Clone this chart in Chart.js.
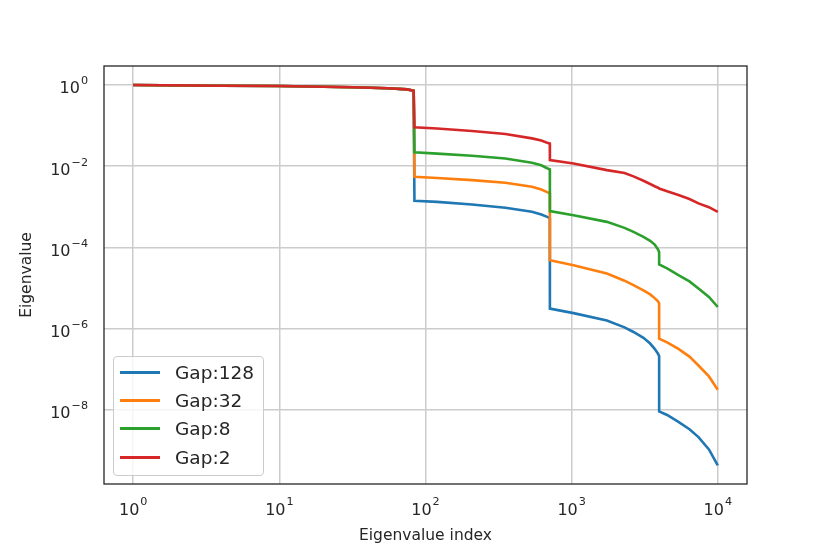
<!DOCTYPE html>
<html>
<head>
<meta charset="utf-8">
<script src="https://cdn.jsdelivr.net/npm/chart.js@4.4.1/dist/chart.umd.min.js"></script>
<style>
  body { margin: 0; background: #fff; }
  #wrap { position: relative; width: 830px; height: 554px; }
  #legend {
    position: absolute; left: 113px; top: 356px; width: 149px; height: 117px;
    border: 1px solid #cccccc; border-radius: 4px; background: rgba(255,255,255,0.8);
    font-family: "DejaVu Sans"; font-size: 18.5px; color: #262626; padding-top: 1px;
  }
  .row { display: flex; align-items: center; height: 28.3px; }
  .swatch { width: 40px; height: 3px; margin-left: 6px; margin-right: 15px; }
</style>
</head>
<body>
<div id="wrap">
  <canvas id="eigChart" width="830" height="554"></canvas>
  <div id="legend"></div>
</div>
<script>
// Eje x: indice del autovalor
var eigIndex = [1, 4, 10, 32, 55, 75, 83,
    84, 120, 208, 352, 535, 620, 680, 709,
    710, 1030, 1742, 2300, 2650, 3100, 3445, 3700, 3900, 3969,
    3970, 4500, 5380, 6400, 7380, 8700, 10000];

// Tramo inicial comun a todas las series
var headValues = [1.0, 0.96, 0.945, 0.877, 0.83, 0.78, 0.72];

// Resto de cada serie (desde x = 84)
var gap128Tail = [1.40e-3, 1.32e-3, 1.14e-3, 9.42e-4, 7.50e-4, 6.46e-4, 5.62e-4, 5.25e-4,
    3.09e-6, 2.40e-6, 1.58e-6, 1.07e-6, 8.22e-7, 5.89e-7, 4.27e-7, 3.16e-7, 2.40e-7, 2.09e-7,
    9.12e-9, 7.41e-9, 5.01e-9, 3.31e-9, 2.11e-9, 1.05e-9, 4.27e-10];
var gap32Tail = [5.50e-3, 5.13e-3, 4.54e-3, 3.89e-3, 3.11e-3, 2.66e-3, 2.29e-3, 2.14e-3,
    4.82e-5, 3.63e-5, 2.26e-5, 1.51e-5, 1.17e-5, 8.71e-6, 6.92e-6, 5.62e-6, 4.68e-6, 4.17e-6,
    5.62e-7, 4.57e-7, 3.16e-7, 2.04e-7, 1.23e-7, 6.61e-8, 3.09e-8];
var gap8Tail = [2.19e-2, 2.04e-2, 1.81e-2, 1.55e-2, 1.21e-2, 1.05e-2, 8.91e-3, 8.32e-3,
    7.80e-4, 6.21e-4, 4.25e-4, 3.02e-4, 2.41e-4, 1.82e-4, 1.45e-4, 1.17e-4, 8.91e-5, 7.59e-5,
    3.80e-5, 3.02e-5, 2.06e-5, 1.45e-5, 9.66e-6, 6.03e-6, 3.39e-6];
var gap2Tail = [9.04e-2, 8.51e-2, 7.33e-2, 6.18e-2, 4.84e-2, 4.27e-2, 3.80e-2, 3.63e-2,
    1.41e-2, 1.17e-2, 8.0e-3, 6.76e-3, 5.62e-3, 4.37e-3, 3.63e-3, 3.20e-3, 2.95e-3, 2.85e-3,
    2.82e-3, 2.40e-3, 1.94e-3, 1.55e-3, 1.21e-3, 9.77e-4, 7.50e-4];

var seriesLabels = ['Gap:128', 'Gap:32', 'Gap:8', 'Gap:2'];
var seriesColors = ['#1f77b4', '#ff7f0e', '#2ca02c', '#d62728'];
var seriesTails = [gap128Tail, gap32Tail, gap8Tail, gap2Tail];

// Ticks (base 10 con exponente)
var xTickVals = [1, 10, 100, 1000, 10000];
var xTickExps = ['0', '1', '2', '3', '4'];
var yTickVals = [1, 1e-2, 1e-4, 1e-6, 1e-8];
var yTickExps = ['0', '\u22122', '\u22124', '\u22126', '\u22128'];

var xMin = Math.pow(10, -0.2), xMax = Math.pow(10, 4.2);
var yMin = Math.pow(10, -9.83), yMax = Math.pow(10, 0.468);

function toPoints(tail) {
    var vals = headValues.concat(tail);
    return eigIndex.map(function (x, i) { return { x: x, y: vals[i] }; });
}

var datasets = seriesLabels.map(function (lab, i) {
    return {
        label: lab,
        data: toPoints(seriesTails[i]),
        borderColor: seriesColors[i],
        backgroundColor: seriesColors[i],
        borderWidth: 2.6,
        pointRadius: 0,
        tension: 0,
        fill: false,
        order: seriesLabels.length - i  // el ultimo (rojo) queda encima
    };
});

var baseFont = '16px "DejaVu Sans"';
var expFont = '11.2px "DejaVu Sans"';

// Marco y etiquetas 10^n con exponente elevado
var framePlugin = {
    id: 'frame',
    afterDraw: function (chart) {
        var a = chart.chartArea, c = chart.ctx;
        c.save();
        c.strokeStyle = '#262626';
        c.lineWidth = 1.3;
        c.strokeRect(a.left, a.top, a.right - a.left, a.bottom - a.top);

        c.fillStyle = '#262626';
        c.textBaseline = 'alphabetic';
        c.textAlign = 'left';
        var xs = chart.scales.x, ys = chart.scales.y;
        xTickVals.forEach(function (v, i) {
            c.font = baseFont; var wb = c.measureText('10').width;
            c.font = expFont; var we = c.measureText(xTickExps[i]).width;
            var x0 = xs.getPixelForValue(v) - (wb + we + 1) / 2;
            c.font = baseFont; c.fillText('10', x0, a.bottom + 31);
            c.font = expFont; c.fillText(xTickExps[i], x0 + wb + 1, a.bottom + 21);
        });
        yTickVals.forEach(function (v, i) {
            var py = ys.getPixelForValue(v);
            c.font = expFont; var we = c.measureText(yTickExps[i]).width;
            c.font = baseFont; var wb = c.measureText('10').width;
            var right = a.left - 16;
            c.fillText('10', right - we - 1 - wb, py + 8.5);
            c.font = expFont; c.fillText(yTickExps[i], right - we, py - 0.5);
        });
        c.restore();
    }
};

var font = { family: 'DejaVu Sans', size: 15.5 };

var ctx = document.getElementById('eigChart').getContext('2d');
var eigChart = new Chart(ctx, {
    type: 'line',
    data: { datasets: datasets },
    options: {
        responsive: false,
        animation: false,
        layout: { padding: { top: 66, right: 83, left: 0, bottom: 0 } },
        plugins: { legend: { display: false }, tooltip: { enabled: false } },
        scales: {
            x: {
                type: 'logarithmic',
                bounds: 'data',
                min: xMin,
                max: xMax,
                afterBuildTicks: function (s) {
                    s.ticks = xTickVals.map(function (v) { return { value: v }; });
                    s.min = xMin; s.max = xMax;
                },
                afterFit: function (s) { s.height = 70; },
                grid: { color: '#cccccc', lineWidth: 1.5, drawTicks: false },
                border: { display: false },
                ticks: { display: false, autoSkip: false },
                title: { display: true, text: 'Eigenvalue index', font: font, color: '#262626', padding: { top: 0, bottom: 9 } }
            },
            y: {
                type: 'logarithmic',
                bounds: 'data',
                min: yMin,
                max: yMax,
                afterBuildTicks: function (s) {
                    s.ticks = yTickVals.map(function (v) { return { value: v }; });
                    s.min = yMin; s.max = yMax;
                },
                afterFit: function (s) { s.width = 104; },
                grid: { color: '#cccccc', lineWidth: 1.5, drawTicks: false },
                border: { display: false },
                ticks: { display: false, autoSkip: false },
                title: { display: true, text: 'Eigenvalue', font: font, color: '#262626', padding: { top: 18, bottom: 0 } }
            }
        }
    },
    plugins: [framePlugin]
});

// Leyenda dentro del area del grafico
var legendDiv = document.getElementById('legend');
seriesLabels.forEach(function (lab, i) {
    var row = document.createElement('div');
    row.className = 'row';
    var sw = document.createElement('span');
    sw.className = 'swatch';
    sw.style.background = seriesColors[i];
    var tx = document.createElement('span');
    tx.textContent = lab;
    row.appendChild(sw);
    row.appendChild(tx);
    legendDiv.appendChild(row);
});
</script>
</body>
</html>
